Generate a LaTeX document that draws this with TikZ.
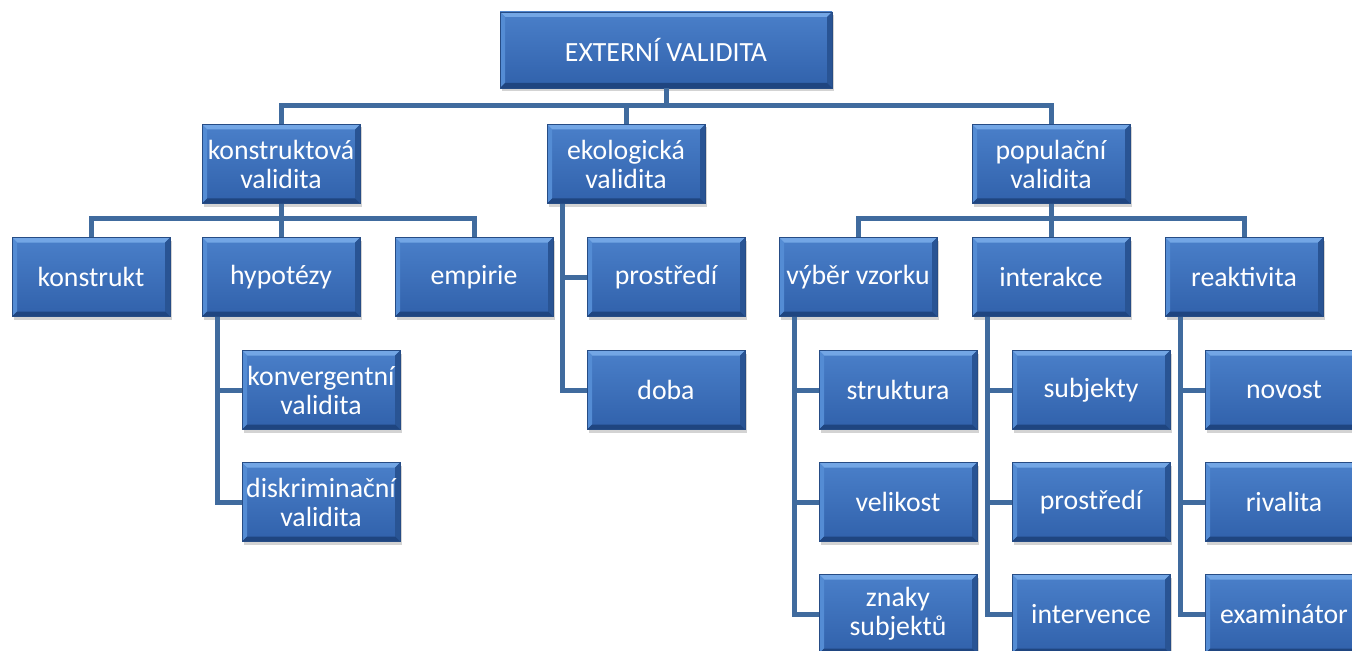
\documentclass[tikz,border=0pt]{standalone}
\usepackage{fontspec}
\setmainfont{Carlito}
\usetikzlibrary{shadows}

\begin{document}
\begin{tikzpicture}[
  box/.style={rectangle,minimum width=3.16cm,minimum height=1.58cm,inner sep=1pt,
    align=center,text=white,font=\fontsize{15.8}{16.5}\selectfont,
    top color=cbt,bottom color=cbb,draw=cbd,line width=0.4pt,
    drop shadow={opacity=0.35,shadow xshift=0.04cm,shadow yshift=-0.06cm},
    path picture={
      \fill[cbn] (path picture bounding box.north west) -- (path picture bounding box.north east)
        -- ([shift={(-0.1,-0.1)}]path picture bounding box.north east)
        -- ([shift={(0.1,-0.1)}]path picture bounding box.north west) -- cycle;
      \fill[cbw] (path picture bounding box.north west) -- (path picture bounding box.south west)
        -- ([shift={(0.1,0.1)}]path picture bounding box.south west)
        -- ([shift={(0.1,-0.1)}]path picture bounding box.north west) -- cycle;
      \fill[cbe] (path picture bounding box.north east) -- (path picture bounding box.south east)
        -- ([shift={(-0.1,0.1)}]path picture bounding box.south east)
        -- ([shift={(-0.1,-0.1)}]path picture bounding box.north east) -- cycle;
      \fill[cbs] (path picture bounding box.south west) -- (path picture bounding box.south east)
        -- ([shift={(-0.1,0.1)}]path picture bounding box.south east)
        -- ([shift={(0.1,0.1)}]path picture bounding box.south west) -- cycle;
    }},
  wire/.style={draw=cw,line width=0.1cm}
]
%
\useasboundingbox (0,-13.02) rectangle (27.04,0);
%
\definecolor{cbt}{rgb}{0.29,0.50,0.79}
\definecolor{cbb}{rgb}{0.19,0.38,0.67}
\definecolor{cbd}{rgb}{0.15,0.30,0.52}
\definecolor{cbn}{rgb}{0.45,0.65,0.90}
\definecolor{cbw}{rgb}{0.33,0.55,0.83}
\definecolor{cbe}{rgb}{0.16,0.33,0.58}
\definecolor{cbs}{rgb}{0.12,0.27,0.50}
\definecolor{cw}{rgb}{0.25,0.42,0.62}
%
\node[box,minimum width=6.64cm,minimum height=1.52cm] (ext) at (13.32,-1.00) {EXTERNÍ VALIDITA};
%
\node[box] (kv) at (5.62,-3.28) {konstruktová\\validita};
\node[box] (ev) at (12.52,-3.28) {ekologická\\validita};
\node[box] (pv) at (21.02,-3.28) {populační\\validita};
%
\node[box] (konstrukt) at (1.82,-5.54) {konstrukt};
\node[box] (hyp) at (5.62,-5.54) {hypotézy};
\node[box] (emp) at (9.48,-5.54) {empirie};
\node[box] (prostr) at (13.32,-5.54) {prostředí};
\node[box] (doba) at (13.32,-7.80) {doba};
\node[box] (konv) at (6.42,-7.80) {konvergentní\\validita};
\node[box] (diskr) at (6.42,-10.04) {diskriminační\\validita};
%
\node[box] (vyber) at (17.16,-5.54) {výběr vzorku};
\node[box] (inter) at (21.02,-5.54) {interakce};
\node[box] (reakt) at (24.88,-5.54) {reaktivita};
%
\node[box] (strukt) at (17.96,-7.80) {struktura};
\node[box] (velik) at (17.96,-10.04) {velikost};
\node[box] (znaky) at (17.96,-12.28) {znaky\\subjektů};
\node[box] (subj) at (21.82,-7.80) {subjekty};
\node[box] (prostrb) at (21.82,-10.04) {prostředí};
\node[box] (interv) at (21.82,-12.28) {intervence};
\node[box] (novost) at (25.68,-7.80) {novost};
\node[box] (rival) at (25.68,-10.04) {rivalita};
\node[box] (exam) at (25.68,-12.28) {examinátor};
%
\draw[wire] (ext.south) -- ++(0,-0.34) -| (kv.north);
\draw[wire] (ext.south) -- ++(0,-0.34) -| (ev.north);
\draw[wire] (ext.south) -- ++(0,-0.34) -| (pv.north);
%
\draw[wire] (kv.south) -- ++(0,-0.29) -| (konstrukt.north);
\draw[wire] (kv.south) -- ++(0,-0.29) -| (hyp.north);
\draw[wire] (kv.south) -- ++(0,-0.29) -| (emp.north);
\draw[wire] ([xshift=0.32cm]hyp.south west) |- (konv.west);
\draw[wire] ([xshift=0.32cm]hyp.south west) |- (diskr.west);
\draw[wire] ([xshift=0.32cm]ev.south west) |- (prostr.west);
\draw[wire] ([xshift=0.32cm]ev.south west) |- (doba.west);
%
\draw[wire] (pv.south) -- ++(0,-0.29) -| (vyber.north);
\draw[wire] (pv.south) -- ++(0,-0.29) -| (inter.north);
\draw[wire] (pv.south) -- ++(0,-0.29) -| (reakt.north);
\draw[wire] ([xshift=0.32cm]vyber.south west) |- (strukt.west);
\draw[wire] ([xshift=0.32cm]vyber.south west) |- (velik.west);
\draw[wire] ([xshift=0.32cm]vyber.south west) |- (znaky.west);
\draw[wire] ([xshift=0.32cm]inter.south west) |- (subj.west);
\draw[wire] ([xshift=0.32cm]inter.south west) |- (prostrb.west);
\draw[wire] ([xshift=0.32cm]inter.south west) |- (interv.west);
\draw[wire] ([xshift=0.32cm]reakt.south west) |- (novost.west);
\draw[wire] ([xshift=0.32cm]reakt.south west) |- (rival.west);
\draw[wire] ([xshift=0.32cm]reakt.south west) |- (exam.west);
%
\end{tikzpicture}
\end{document}
